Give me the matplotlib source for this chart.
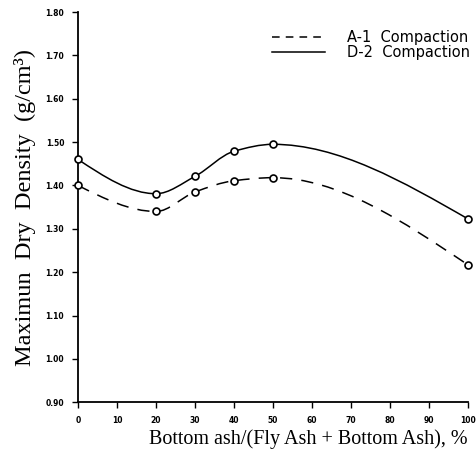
import matplotlib
matplotlib.use('Agg')
import matplotlib.pyplot as plt
from matplotlib.path import Path
from matplotlib.patches import PathPatch
from matplotlib.lines import Line2D

# data
ash_pct = [0, 20, 30, 40, 50, 100]
a1_density = [1.40, 1.34, 1.385, 1.411, 1.418, 1.217]   # A-1 compaction (dashed)
d2_density = [1.46, 1.381, 1.421, 1.479, 1.495, 1.323]  # D-2 compaction (solid)

x_ticks = [0, 10, 20, 30, 40, 50, 60, 70, 80, 90, 100]
y_ticks = [0.90, 1.00, 1.10, 1.20, 1.30, 1.40, 1.50, 1.60, 1.70, 1.80]


def smooth_path(x, y):
    # monotone hermite (fritsch-carlson) segments drawn as cubic beziers
    n = len(x)
    h = [x[i + 1] - x[i] for i in range(n - 1)]
    d = [(y[i + 1] - y[i]) / h[i] for i in range(n - 1)]
    m = [0.0] * n
    for i in range(1, n - 1):
        if d[i - 1] * d[i] > 0:
            w1 = 2 * h[i] + h[i - 1]
            w2 = h[i] + 2 * h[i - 1]
            m[i] = (w1 + w2) / (w1 / d[i - 1] + w2 / d[i])
    m[0] = 1.5 * d[0] - 0.5 * m[1]
    m[-1] = 1.5 * d[-1] - 0.5 * m[-2]
    verts = [(x[0], y[0])]
    codes = [Path.MOVETO]
    for i in range(n - 1):
        verts += [(x[i] + h[i] / 3, y[i] + m[i] * h[i] / 3),
                  (x[i + 1] - h[i] / 3, y[i + 1] - m[i + 1] * h[i] / 3),
                  (x[i + 1], y[i + 1])]
        codes += [Path.CURVE4] * 3
    return Path(verts, codes)


fig = plt.figure(figsize=(4.76, 4.65), dpi=100)
ax = fig.add_axes([0.164, 0.135, 0.819, 0.839])

dash = (0, (8, 6))
ax.add_patch(PathPatch(smooth_path(ash_pct, a1_density), fill=False,
                       edgecolor='black', lw=1.1, linestyle=dash))
ax.add_patch(PathPatch(smooth_path(ash_pct, d2_density), fill=False,
                       edgecolor='black', lw=1.1))
ax.plot(ash_pct, a1_density, 'o', ms=5, mfc='white', mec='black', mew=1.2, clip_on=False, zorder=3)
ax.plot(ash_pct, d2_density, 'o', ms=5, mfc='white', mec='black', mew=1.2, clip_on=False, zorder=3)

ax.set_xlim(0, 100)
ax.set_ylim(0.90, 1.80)
ax.set_xticks(x_ticks)
ax.set_yticks(y_ticks)
ax.set_xticklabels([str(v) for v in x_ticks], fontsize=5.5, fontweight='bold')
ax.set_yticklabels([f'{v:.2f}' for v in y_ticks], fontsize=5.5, fontweight='bold')
ax.tick_params(length=4, width=1, pad=6)
ax.spines['top'].set_visible(False)
ax.spines['right'].set_visible(False)
ax.spines['left'].set_linewidth(1.3)
ax.spines['bottom'].set_linewidth(1.3)

ax.set_xlabel('Bottom ash/(Fly Ash + Bottom Ash), %', family='Liberation Serif',
              fontsize=14.5, labelpad=3, loc='right')
ax.set_ylabel('Maximun  Dry  Density  (g/cm³)', family='Liberation Serif',
              fontsize=17.5, labelpad=7)

handles = [Line2D([], [], color='black', lw=1.1, linestyle=(0, (5, 4))),
           Line2D([], [], color='black', lw=1.1)]
ax.legend(handles, ['A-1  Compaction', 'D-2  Compaction'], loc='upper right',
          bbox_to_anchor=(1.005, 0.955), frameon=False, fontsize=10.5,
          handlelength=3.6, handletextpad=1.5, labelspacing=0.0,
          borderpad=0, borderaxespad=0)

fig.savefig('out.png', dpi=100)
